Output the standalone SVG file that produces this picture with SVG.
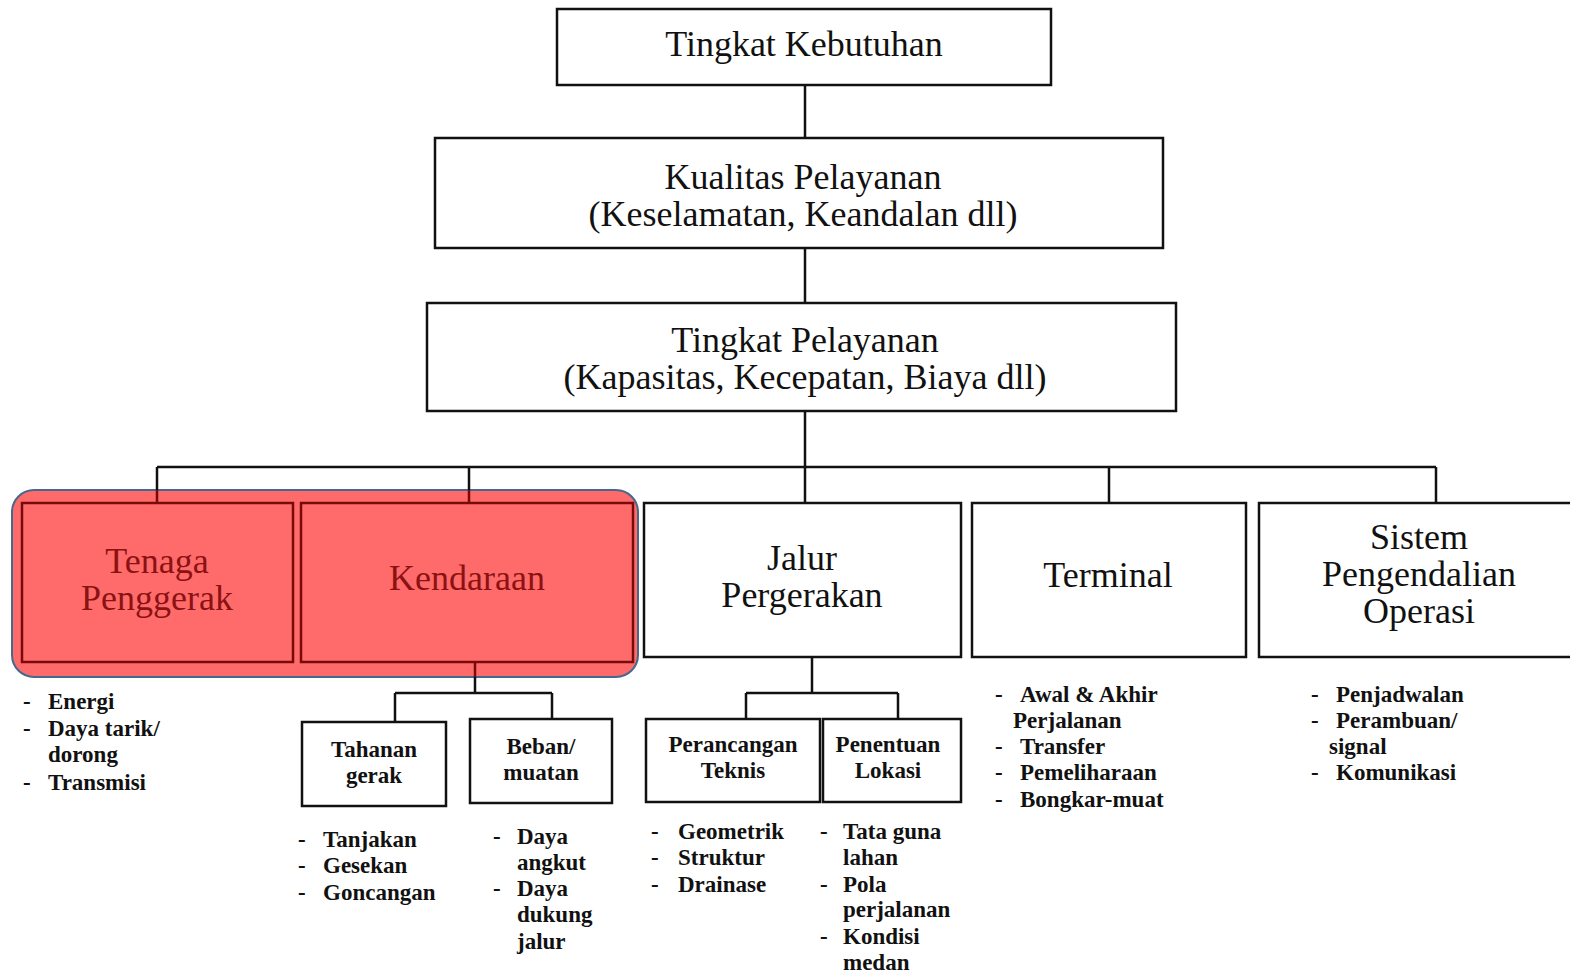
<svg xmlns="http://www.w3.org/2000/svg" width="1570" height="975" viewBox="0 0 1570 975">
<style>
.box{fill:#fff;stroke:#111;stroke-width:2.5}
.rbox{fill:none;stroke:#7a0a0a;stroke-width:2.5}
.conn{fill:none;stroke:#111;stroke-width:2.5}
.connr{fill:none;stroke:#7a0a0a;stroke-width:2.5}
.big{font-family:"Liberation Serif","Times New Roman",serif;font-size:36px;fill:#111;text-anchor:middle}
.bigr{font-family:"Liberation Serif","Times New Roman",serif;font-size:36px;fill:#8a1212;text-anchor:middle}
.sm{font-family:"Liberation Serif","Times New Roman",serif;font-size:23px;font-weight:bold;fill:#111}
.smc{font-family:"Liberation Serif","Times New Roman",serif;font-size:23px;font-weight:bold;fill:#111;text-anchor:middle}
</style>
<rect width="1570" height="975" fill="#fff"/>

<g id="highlight">
<rect x="12" y="490" width="626" height="187" rx="22" fill="#ff6b6b" stroke="#45688f" stroke-width="2"/>
</g>

<g id="connectors">
<path class="conn" d="M805 85V138M805 248V303M805 411V467M157 467H1436M157 467V490M469 467V490M805 467V503M1109 467V503M1436 467V503"/>
<path class="connr" d="M157 490V503M469 490V503M475 662V677"/>
<path class="conn" d="M475 677V693M395 693H552M395 693V722M552 693V719"/>
<path class="conn" d="M812 657V693M746 693H898M746 693V719M898 693V719"/>
</g>

<g id="n-kebutuhan">
<rect class="box" x="557" y="9" width="494" height="76"/>
<text class="big" x="804" y="56">Tingkat Kebutuhan</text>
</g>
<g id="n-kualitas">
<rect class="box" x="435" y="138" width="728" height="110"/>
<text class="big" x="803" y="189">Kualitas Pelayanan</text>
<text class="big" x="803" y="226">(Keselamatan, Keandalan dll)</text>
</g>
<g id="n-tingkat-pelayanan">
<rect class="box" x="427" y="303" width="749" height="108"/>
<text class="big" x="805" y="352">Tingkat Pelayanan</text>
<text class="big" x="805" y="389">(Kapasitas, Kecepatan, Biaya dll)</text>
</g>

<g id="n-tenaga">
<rect class="rbox" x="22" y="503" width="271" height="159"/>
<text class="bigr" x="157" y="573">Tenaga</text>
<text class="bigr" x="157" y="610">Penggerak</text>
</g>
<g id="n-kendaraan">
<rect class="rbox" x="301" y="503" width="332" height="159"/>
<text class="bigr" x="467" y="590">Kendaraan</text>
</g>
<g id="n-jalur">
<rect class="box" x="644" y="503" width="317" height="154"/>
<text class="big" x="802" y="570">Jalur</text>
<text class="big" x="802" y="607">Pergerakan</text>
</g>
<g id="n-terminal">
<rect class="box" x="972" y="503" width="274" height="154"/>
<text class="big" x="1108" y="587">Terminal</text>
</g>
<g id="n-sistem">
<rect class="box" x="1259" y="503" width="320" height="154"/>
<text class="big" x="1419" y="549">Sistem</text>
<text class="big" x="1419" y="586">Pengendalian</text>
<text class="big" x="1419" y="623">Operasi</text>
</g>

<g id="n-tahanan">
<rect class="box" x="302" y="722" width="144" height="84"/>
<text class="smc" x="374" y="757">Tahanan</text>
<text class="smc" x="374" y="783">gerak</text>
</g>
<g id="n-beban">
<rect class="box" x="470" y="719" width="142" height="84"/>
<text class="smc" x="541" y="754">Beban/</text>
<text class="smc" x="541" y="780">muatan</text>
</g>
<g id="n-perancangan">
<rect class="box" x="646" y="719" width="174" height="83"/>
<text class="smc" x="733" y="752">Perancangan</text>
<text class="smc" x="733" y="778">Teknis</text>
</g>
<g id="n-penentuan">
<rect class="box" x="823" y="719" width="138" height="83"/>
<text class="smc" x="888" y="752">Penentuan</text>
<text class="smc" x="888" y="778">Lokasi</text>
</g>

<g id="list-tenaga">
<text class="sm" x="23" y="709">-</text><text class="sm" x="48" y="709">Energi</text>
<text class="sm" x="23" y="736">-</text><text class="sm" x="48" y="736">Daya tarik/</text>
<text class="sm" x="48" y="762">dorong</text>
<text class="sm" x="23" y="790">-</text><text class="sm" x="48" y="790">Transmisi</text>
</g>
<g id="list-tahanan">
<text class="sm" x="298" y="847">-</text><text class="sm" x="323" y="847">Tanjakan</text>
<text class="sm" x="298" y="873">-</text><text class="sm" x="323" y="873">Gesekan</text>
<text class="sm" x="298" y="900">-</text><text class="sm" x="323" y="900">Goncangan</text>
</g>
<g id="list-beban">
<text class="sm" x="493" y="844">-</text><text class="sm" x="517" y="844">Daya</text>
<text class="sm" x="517" y="870">angkut</text>
<text class="sm" x="493" y="896">-</text><text class="sm" x="517" y="896">Daya</text>
<text class="sm" x="517" y="922">dukung</text>
<text class="sm" x="517" y="949">jalur</text>
</g>
<g id="list-perancangan">
<text class="sm" x="651" y="839">-</text><text class="sm" x="678" y="839">Geometrik</text>
<text class="sm" x="651" y="865">-</text><text class="sm" x="678" y="865">Struktur</text>
<text class="sm" x="651" y="892">-</text><text class="sm" x="678" y="892">Drainase</text>
</g>
<g id="list-penentuan">
<text class="sm" x="820" y="839">-</text><text class="sm" x="843" y="839">Tata guna</text>
<text class="sm" x="843" y="865">lahan</text>
<text class="sm" x="820" y="892">-</text><text class="sm" x="843" y="892">Pola</text>
<text class="sm" x="843" y="917">perjalanan</text>
<text class="sm" x="820" y="944">-</text><text class="sm" x="843" y="944">Kondisi</text>
<text class="sm" x="843" y="970">medan</text>
</g>
<g id="list-terminal">
<text class="sm" x="995" y="702">-</text><text class="sm" x="1020" y="702">Awal &amp; Akhir</text>
<text class="sm" x="1013" y="728">Perjalanan</text>
<text class="sm" x="995" y="754">-</text><text class="sm" x="1020" y="754">Transfer</text>
<text class="sm" x="995" y="780">-</text><text class="sm" x="1020" y="780">Pemeliharaan</text>
<text class="sm" x="995" y="807">-</text><text class="sm" x="1020" y="807">Bongkar-muat</text>
</g>
<g id="list-sistem">
<text class="sm" x="1311" y="702">-</text><text class="sm" x="1336" y="702">Penjadwalan</text>
<text class="sm" x="1311" y="728">-</text><text class="sm" x="1336" y="728">Perambuan/</text>
<text class="sm" x="1329" y="754">signal</text>
<text class="sm" x="1311" y="780">-</text><text class="sm" x="1336" y="780">Komunikasi</text>
</g>
</svg>
